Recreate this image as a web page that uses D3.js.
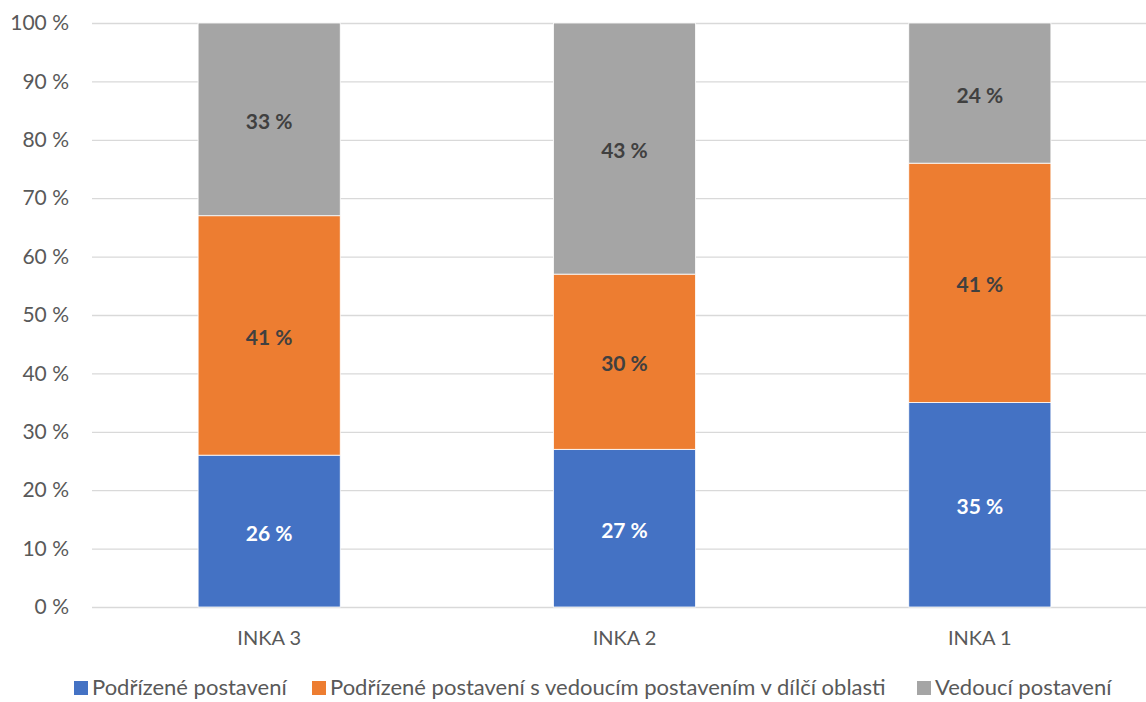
<!DOCTYPE html>
<html>
<head>
<meta charset="utf-8">
<script src="https://cdn.jsdelivr.net/npm/d3@7"></script>
<style>
  html, body { margin: 0; padding: 0; background: #fff; }
  svg { display: block; font-family: Lato, "Open Sans", sans-serif; }
</style>
</head>
<body>
<svg id="chart" width="1146" height="702"></svg>
<script>
// Categories and series (shares in percent, each column sums to 100)
const categories = ["INKA 3", "INKA 2", "INKA 1"];
const seriesNames = [
  "Podřízené postavení",
  "Podřízené postavení s vedoucím postavením v dílčí oblasti",
  "Vedoucí postavení"
];
const subordinate = [26, 27, 35];
const subordinateWithLead = [41, 30, 41];
const leading = [33, 43, 24];
const yTicks = [0, 10, 20, 30, 40, 50, 60, 70, 80, 90, 100];

const colors = ["#4472c4", "#ed7d31", "#a5a5a5"];
const labelColors = ["#ffffff", "#404040", "#404040"];

const rows = categories.map((c, i) => ({
  cat: c,
  s0: subordinate[i],
  s1: subordinateWithLead[i],
  s2: leading[i]
}));
const stack = d3.stack().keys(["s0", "s1", "s2"])(rows);

const svg = d3.select("#chart");
const plotLeft = 92, plotRight = 1146;
const plotTop = 23, plotBottom = 607;

const x = d3.scaleBand().domain(categories).range([91.5, 1157.5]).paddingInner(0.6).paddingOuter(0.3);
const y = d3.scaleLinear().domain([0, 100]).range([plotBottom, plotTop]);

// horizontal gridlines
svg.append("g").selectAll("line").data(yTicks).join("line")
  .attr("x1", plotLeft).attr("x2", plotRight)
  .attr("y1", d => y(d) + 0.5).attr("y2", d => y(d) + 0.5)
  .attr("stroke", "#d9d9d9").attr("stroke-width", 1.3);

// y axis labels
const yAxis = d3.axisLeft(y).tickValues(yTicks).tickSize(0).tickPadding(0)
  .tickFormat(d => d + " %");
const ya = svg.append("g").attr("transform", "translate(69,0)").call(yAxis);
ya.select(".domain").remove();
ya.selectAll("text").attr("fill", "#595959").style("font-size", "21px")
  .style("font-family", "Lato, sans-serif");

// stacked bars
const layers = svg.append("g").selectAll("g").data(stack).join("g")
  .attr("fill", (d, i) => colors[i]);
layers.selectAll("rect").data(d => d).join("rect")
  .attr("x", d => x(d.data.cat))
  .attr("width", x.bandwidth())
  .attr("y", d => y(d[1]))
  .attr("height", d => y(d[0]) - y(d[1]))
  .attr("stroke", "#ffffff").attr("stroke-width", 0.8);

// value labels centred in each segment
stack.forEach((layer, i) => {
  svg.append("g").selectAll("text").data(layer).join("text")
    .attr("x", d => x(d.data.cat) + x.bandwidth() / 2)
    .attr("y", d => y((d[0] + d[1]) / 2) + 2)
    .attr("dy", "0.36em")
    .attr("text-anchor", "middle")
    .attr("fill", labelColors[i])
    .style("font-size", "21px").style("font-weight", "bold")
    .text(d => (d[1] - d[0]) + " %");
});

// x axis labels
const xAxis = d3.axisBottom(x).tickSize(0).tickPadding(0);
const xa = svg.append("g").attr("transform", `translate(0,${plotBottom + 24})`).call(xAxis);
xa.select(".domain").remove();
xa.selectAll("text").attr("fill", "#595959").style("font-size", "20px")
  .style("font-family", "Lato, sans-serif");

// legend
const legend = svg.append("g").attr("transform", "translate(0,687)");
const lx = [74, 312, 917];
seriesNames.forEach((name, i) => {
  const g = legend.append("g").attr("transform", `translate(${lx[i]},0)`);
  g.append("rect").attr("x", 0).attr("y", -6).attr("width", 14).attr("height", 14).attr("fill", colors[i]);
  g.append("text").attr("x", 18).attr("y", 0).attr("dy", "0.36em")
    .attr("fill", "#595959").style("font-size", "22px").text(name);
});
</script>
</body>
</html>
